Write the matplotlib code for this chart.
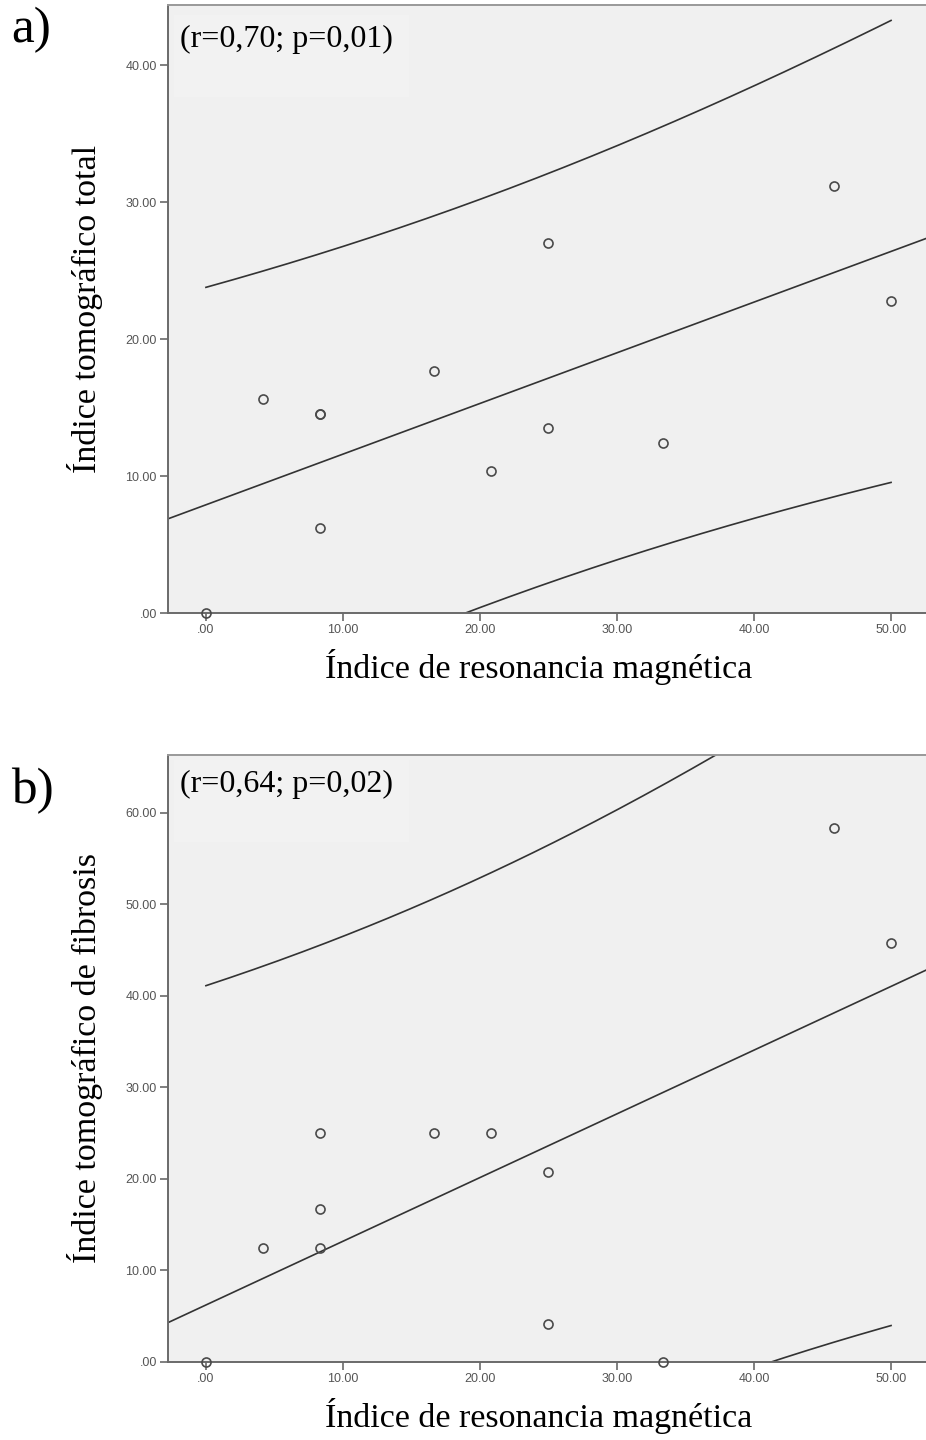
import numpy as np
import matplotlib.pyplot as plt
from matplotlib.patches import Rectangle

# datos
rm_a = [0.0, 4.17, 8.33, 8.33, 8.33, 16.67, 20.83, 25.0, 25.0, 33.33, 45.83, 50.0]
tc_total = [0.0, 15.6, 14.5, 14.5, 6.2, 17.7, 10.4, 27.0, 13.5, 12.4, 31.2, 22.8]

rm_b = [0.0, 4.17, 8.33, 8.33, 8.33, 16.67, 20.83, 25.0, 25.0, 33.33, 45.83, 50.0]
tc_fibrosis = [0.0, 12.5, 25.0, 16.7, 12.5, 25.0, 25.0, 20.8, 4.17, 0.0, 58.3, 45.8]

x_ticks = [0, 10, 20, 30, 40, 50]
yticks_a = [0, 10, 20, 30, 40]
yticks_b = [0, 10, 20, 30, 40, 50, 60]

T_975_DF10 = 2.228  # t de Student, 95%, gl = 10

plt.rcParams['font.family'] = ['Liberation Serif', 'DejaVu Serif']

BG = '#f0f0f0'
LINE = '#333333'
SPINE = '#6a6a6a'


def fmt(v):
    s = f"{v:.2f}"
    return s[1:] if s.startswith('0') else s


def scatter_panel(ax, x, y, yticks, ylim, ylabel, note, note_y):
    x = np.asarray(x)
    y = np.asarray(y)
    n = len(x)
    b, a = np.polyfit(x, y, 1)
    resid = y - (a + b * x)
    s = np.sqrt(np.sum(resid ** 2) / (n - 2))
    xm = x.mean()
    sxx = np.sum((x - xm) ** 2)

    xlim = (-2.77, 52.55)
    ax.set_facecolor(BG)

    xf = np.linspace(xlim[0], xlim[1], 200)
    ax.plot(xf, a + b * xf, color=LINE, lw=1.2, zorder=2)

    xi = np.linspace(x.min(), x.max(), 200)
    half = T_975_DF10 * s * np.sqrt(1 + 1 / n + (xi - xm) ** 2 / sxx)
    ax.plot(xi, a + b * xi + half, color=LINE, lw=1.2, zorder=2)
    ax.plot(xi, a + b * xi - half, color=LINE, lw=1.2, zorder=2)

    ax.plot(x, y, 'o', ms=6.5, mfc='none', mec='#4a4a4a', mew=1.2,
            zorder=3, clip_on=False)

    ax.set_xlim(*xlim)
    ax.set_ylim(*ylim)
    ax.set_xticks(x_ticks)
    ax.set_xticklabels([fmt(v) for v in x_ticks])
    ax.set_yticks(yticks)
    ax.set_yticklabels([fmt(v) for v in yticks])
    ax.tick_params(length=6, width=1.2, color=SPINE, labelcolor='#555555',
                   labelsize=9, pad=2)
    for lab in ax.get_xticklabels() + ax.get_yticklabels():
        lab.set_fontfamily('Liberation Sans')

    ax.spines['right'].set_visible(False)
    for side in ('left', 'bottom'):
        ax.spines[side].set_color(SPINE)
        ax.spines[side].set_linewidth(1.4)
    ax.spines['top'].set_color('#999999')
    ax.spines['top'].set_linewidth(1.4)

    ax.add_patch(Rectangle((0.008, note_y - 0.095), 0.31, 0.135,
                           transform=ax.transAxes, facecolor='#f2f2f2',
                           edgecolor='none', zorder=1))
    ax.text(0.016, note_y, note, transform=ax.transAxes, fontsize=23,
            ha='left', va='center', zorder=4)

    ax.set_xlabel('Índice de resonancia magnética', fontsize=24.5, labelpad=9)
    ax.xaxis.label.set_x(0.489)
    ax.text(-0.109, 0.5, ylabel, transform=ax.transAxes, fontsize=24.5,
            rotation=90, ha='center', va='center')


fig = plt.figure(figsize=(9.26, 14.4), dpi=100)
ax1 = fig.add_axes([0.1814, 0.5743, 0.8186, 0.4222])
ax2 = fig.add_axes([0.1814, 0.0542, 0.8186, 0.4215])

scatter_panel(ax1, rm_a, tc_total, yticks_a, (0, 44.4),
              'Índice tomográfico total', '(r=0,70; p=0,01)', 0.944)
scatter_panel(ax2, rm_b, tc_fibrosis, yticks_b, (0, 66.3),
              'Índice tomográfico de fibrosis', '(r=0,64; p=0,02)', 0.951)

fig.text(0.012, 1 - 30 / 1440, 'a)', fontsize=37, ha='left', va='center')
fig.text(0.012, 1 - 791 / 1440, 'b)', fontsize=37, ha='left', va='center')

fig.savefig('out.png', dpi=100)
